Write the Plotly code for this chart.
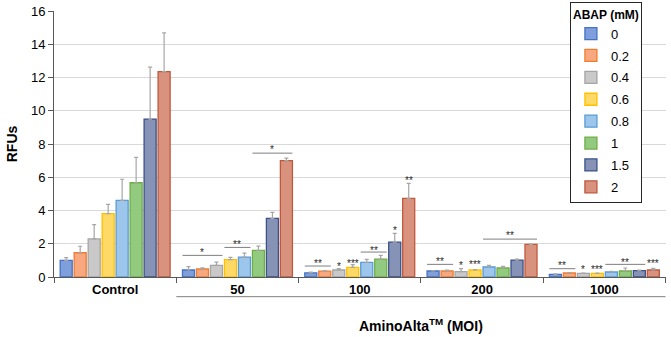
import plotly.graph_objects as go

categories = ["Control", "50", "100", "200", "1000"]
doses = ["0", "0.2", "0.4", "0.6", "0.8", "1", "1.5", "2"]

# mean RFUs per dose (rows) across categories (columns)
rfu_0 = [1.0, 0.42, 0.25, 0.36, 0.16]
rfu_02 = [1.46, 0.48, 0.35, 0.36, 0.24]
rfu_04 = [2.29, 0.70, 0.42, 0.32, 0.22]
rfu_06 = [3.81, 1.04, 0.58, 0.42, 0.22]
rfu_08 = [4.61, 1.20, 0.88, 0.60, 0.30]
rfu_1 = [5.67, 1.60, 1.08, 0.54, 0.36]
rfu_15 = [9.50, 3.53, 2.10, 1.02, 0.38]
rfu_2 = [12.35, 7.00, 4.73, 1.96, 0.42]

# upper error (SD)
err_0 = [0.17, 0.20, 0.05, 0.02, 0.03]
err_02 = [0.39, 0.07, 0.04, 0.05, 0.03]
err_04 = [0.86, 0.20, 0.08, 0.18, 0.02]
err_06 = [0.56, 0.14, 0.17, 0.03, 0.02]
err_08 = [1.27, 0.24, 0.18, 0.10, 0.04]
err_1 = [1.53, 0.26, 0.22, 0.10, 0.18]
err_15 = [3.12, 0.36, 0.52, 0.06, 0.03]
err_2 = [2.33, 0.15, 0.90, 0.02, 0.10]

values = [rfu_0, rfu_02, rfu_04, rfu_06, rfu_08, rfu_1, rfu_15, rfu_2]
errors = [err_0, err_02, err_04, err_06, err_08, err_1, err_15, err_2]

fill_colors = ["#7E9FDB", "#F9A77F", "#C9C9C9", "#FFD966", "#9CC6EC",
               "#92CB80", "#8693B6", "#D9927E"]
line_colors = ["#4472C4", "#ED7D31", "#A5A5A5", "#FFC000", "#5B9BD5",
               "#70AD47", "#3A5288", "#C0583C"]

# significance marks: category, first bar, last bar, line y (None = no line), label y, label
sig_cat = [1, 1, 1, 2, 2, 2, 2, 2, 2, 3, 3, 3, 3, 4, 4, 4, 4, 4]
sig_first = [0, 3, 5, 0, 2, 3, 4, 6, 7, 0, 2, 3, 4, 0, 2, 3, 4, 7]
sig_last = [2, 4, 7, 1, 2, 3, 5, 6, 7, 1, 2, 3, 7, 1, 2, 3, 6, 7]
sig_line_y = [1.3, 1.78, 7.45, 0.66, None, None, 1.5, None, None,
              0.76, None, None, 2.28, 0.5, None, None, 0.76, None]
sig_text_y = [1.62, 2.1, 7.8, 0.96, 0.74, 0.96, 1.74, 2.89, 5.93,
              1.06, 0.84, 0.9, 2.64, 0.8, 0.56, 0.6, 1.0, 0.94]
sig_label = ["*", "**", "*", "**", "*", "***", "**", "*", "**",
             "**", "*", "***", "**", "**", "*", "***", "**", "***"]

FONT = "Arial, Liberation Sans, sans-serif"
BARGAP = 0.085
GROUPGAP = 0.14
N = len(doses)

fig = go.Figure()
for i, d in enumerate(doses):
    fig.add_trace(go.Bar(
        x=categories, y=values[i], name=d,
        marker=dict(color=fill_colors[i], line=dict(color=line_colors[i], width=1.3)),
        error_y=dict(type="data", array=errors[i], symmetric=False,
                     arrayminus=[0] * len(categories),
                     color="#A6A6A6", thickness=1.2, width=2),
        legendgroup=d,
    ))


def bar_center(cat, idx):
    slot = (1 - BARGAP) / N
    return cat - (1 - BARGAP) / 2 + (idx + 0.5) * slot


half_w = (1 - BARGAP) / N * (1 - GROUPGAP) / 2

for c, f, l, ly, ty, lab in zip(sig_cat, sig_first, sig_last, sig_line_y, sig_text_y, sig_label):
    x0 = bar_center(c, f) - half_w
    x1 = bar_center(c, l) + half_w
    if ly is not None:
        fig.add_shape(type="line", xref="x", yref="y", x0=x0, x1=x1, y0=ly, y1=ly,
                      line=dict(color="#7F7F7F", width=1))
    fig.add_annotation(x=(x0 + x1) / 2, y=ty, xref="x", yref="y", text=lab,
                       showarrow=False, yanchor="middle", yshift=-2,
                       font=dict(family=FONT, size=10, color="#262626"))

# group line under MOI categories and its title
fig.add_shape(type="line", xref="x", yref="paper", x0=0.5, x1=4.5, y0=-0.074, y1=-0.074,
              line=dict(color="#7F7F7F", width=1))
fig.add_annotation(x=2.5, y=-0.18, xref="x", yref="paper",
                   text="<b>AminoAlta<sup>TM</sup> (MOI)</b>", showarrow=False,
                   yanchor="middle", font=dict(family=FONT, size=14, color="black"))

fig.update_layout(
    width=671, height=337,
    margin=dict(l=54, r=5, t=11, b=60, autoexpand=False),
    paper_bgcolor="white", plot_bgcolor="white",
    barmode="group", bargap=BARGAP, bargroupgap=GROUPGAP,
    font=dict(family=FONT, size=13, color="black"),
    legend=dict(
        title=dict(text="<b>ABAP (mM)</b>", side="top center",
                   font=dict(family=FONT, size=12, color="black")),
        x=0.843, xanchor="left", xref="paper",
        y=0.994, yanchor="top", yref="container", maxheight=330,
        bgcolor="white", bordercolor="#262626", borderwidth=1,
        font=dict(family=FONT, size=13), tracegroupgap=2,
    ),
    xaxis=dict(type="category", showline=True, linecolor="#595959", linewidth=1,
               ticks="outside", tickson="boundaries", ticklen=5, tickcolor="#595959",
               showgrid=False, tickfont=dict(family=FONT, size=13, color="black"),
               automargin=False,
               tickvals=categories, ticktext=["<b>" + c + "</b>" for c in categories]),
    yaxis=dict(range=[0, 16], dtick=2, showline=True, linecolor="#595959", linewidth=1,
               ticks="outside", ticklen=5, tickcolor="#595959", automargin=False,
               showgrid=True, gridcolor="#D9D9D9", zeroline=False,
               tickfont=dict(family=FONT, size=13, color="black"),
               title=dict(text="<b>RFUs</b>", font=dict(family=FONT, size=14), standoff=10)),
)

fig.write_html("out.html", config={"displayModeBar": False},
               post_script="document.body.style.margin='0px';document.body.style.overflow='hidden';")
